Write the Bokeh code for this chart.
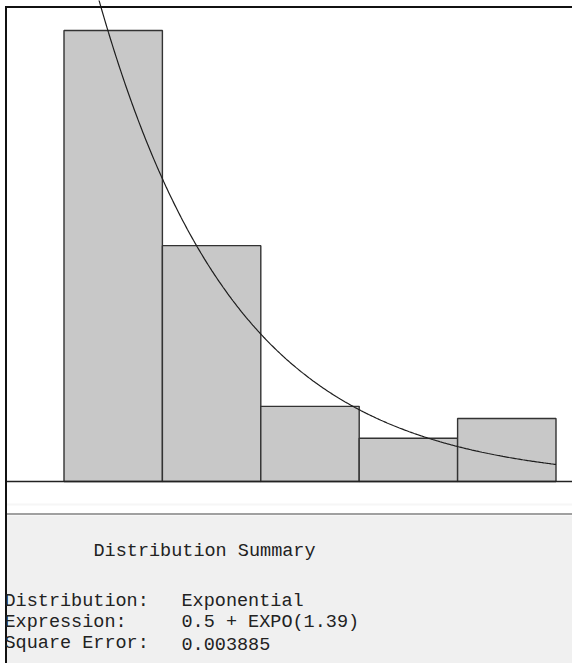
from bokeh.plotting import figure
from bokeh.models import Range1d
from bokeh.embed import file_html
from bokeh.resources import INLINE
from bokeh.core.properties import value
import numpy as np

# ---- data ----
bin_edges = [0.5, 1.5, 2.5, 3.5, 4.5, 5.5]
rel_freq = [0.522, 0.273, 0.087, 0.050, 0.073]
expo_offset = 0.5
expo_mean = 1.39
summary_title = "Distribution Summary"
summary_labels = ["Distribution:", "Expression:", "Square Error:"]
summary_values = ["Exponential", "0.5 + EXPO(1.39)", "0.003885"]

# ---- layout (page pixel geometry) ----
FIG_LEFT, FIG_TOP = 0, 0
W, H = 572, 663
PX_PER_X = 98.4          # pixels per unit on x
PX_PER_Y = 864.0         # pixels per unit of relative frequency
X_ORIGIN_PAGE = 63.5     # page x of bin_edges[0]
Y_BASE_PAGE = 481.0      # page y of zero frequency


def px(page_x):
    return bin_edges[0] + (page_x - X_ORIGIN_PAGE) / PX_PER_X


def py(page_y):
    return (Y_BASE_PAGE - page_y) / PX_PER_Y


X0, X1 = px(FIG_LEFT), px(FIG_LEFT + W)
Y0, Y1 = py(FIG_TOP + H), py(FIG_TOP)

p = figure(width=W, height=H, x_range=Range1d(X0, X1), y_range=Range1d(Y0, Y1),
           output_backend="svg", toolbar_location=None, min_border=0,
           x_axis_location=None, y_axis_location=None)
p.grid.visible = False
p.outline_line_color = None
p.background_fill_color = "white"
p.border_fill_color = "white"

# summary panel (grey area)
p.quad(left=[px(5)], right=[X1 + 1], bottom=[Y0 - 1], top=[py(515)],
       fill_color="#f0f0f0", line_color=None)
p.segment(x0=[px(5)], x1=[X1 + 1], y0=[py(504)], y1=[py(504)],
          line_color="#f6f6f6", line_width=2)
p.segment(x0=[px(5)], x1=[X1 + 1], y0=[py(513.5)], y1=[py(513.5)],
          line_color="#a0a0a0", line_width=2)

# histogram bars
p.quad(left=bin_edges[:-1], right=bin_edges[1:], bottom=0, top=rel_freq,
       fill_color="#c8c8c8", line_color="#333333", line_width=1.4)

# fitted exponential density (scaled to bin width)
bin_width = bin_edges[1] - bin_edges[0]
xs = np.linspace(expo_offset, bin_edges[-1], 400)
ys = bin_width / expo_mean * np.exp(-(xs - expo_offset) / expo_mean)
p.line(xs, ys, line_color="#1e1e1e", line_width=1.2)

# frame lines
p.segment(x0=[px(5)], x1=[X1 + 1], y0=[0], y1=[0], line_color="#222222", line_width=1.5)
p.segment(x0=[px(5)], x1=[X1 + 1], y0=[py(6.5)], y1=[py(6.5)], line_color="#111111", line_width=2)
p.segment(x0=[px(5.5)], x1=[px(5.5)], y0=[Y0 - 1], y1=[py(5.5)], line_color="#111111", line_width=2)

# summary text
font = value("Liberation Mono")
p.text(x=[px(93)], y=[py(551)], text=[summary_title], text_font=font,
       text_font_size="18.5px", text_color="#222222", text_baseline="middle")
p.text(x=[px(4)] * 3, y=[py(601), py(622), py(643)], text=summary_labels,
       text_font=font, text_font_size="18.5px", text_color="#222222", text_baseline="middle")
p.text(x=[px(181)] * 3, y=[py(601), py(622), py(643)], text=summary_values,
       text_font=font, text_font_size="18.5px", text_color="#222222", text_baseline="middle")

open("out.html", "w").write(file_html(p, INLINE))
